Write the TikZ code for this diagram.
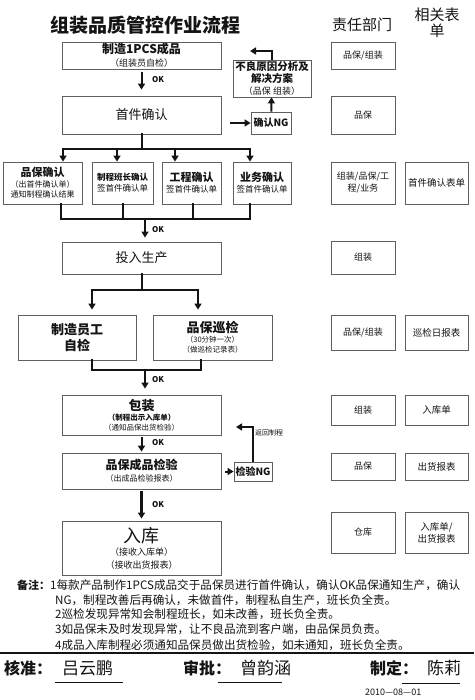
\documentclass[tikz,border=0pt]{standalone}
\usepackage{fontspec}
\setmainfont{Noto Sans CJK SC}
\usepackage{tikz}
\usetikzlibrary{arrows.meta,calc}
\definecolor{ink}{RGB}{20,20,20}
\definecolor{rim}{RGB}{95,95,95}
\newcommand{\fsz}[2]{\fontsize{#1}{#2}\selectfont}
\tikzset{
  box/.style={draw=rim,line width=0.8pt,inner sep=0pt,align=center,text=ink},
  sz/.style 2 args={minimum width=#1,minimum height=#2},
  flow/.style={-{Triangle[length=6pt,width=7pt]},line width=2pt,ink},
  link/.style={line width=2pt,ink,line cap=rect},
  oklab/.style={font=\bfseries\fsz{8}{9},inner sep=0pt,anchor=west,text=ink},
  txt/.style={inner sep=0pt,anchor=west,text=ink},
}

\begin{document}
\begin{tikzpicture}[x=1pt,y=-1pt]
\useasboundingbox[fill=white] (0,0) rectangle (474,700);
\node[txt,anchor=center,font=\bfseries\fsz{19}{21}] (title) at (145,25) {组装品质管控作业流程};
\node[txt,anchor=center,font=\fsz{15}{17}] (dhead) at (362,25) {责任部门};
\node[txt,anchor=center,align=center,font=\fsz{15}{16}] (fhead) at (437,23) {相关表\\单};

\node[box,sz={159pt}{27pt},font=\fsz{9}{13}] (make) at (141.5,55.5)
  {{\bfseries\fsz{12}{13}制造1PCS成品}\\（组装员自检）};
\node[box,sz={159pt}{38pt},font=\fsz{13}{15}] (first) at (141.5,115) {首件确认};
\node[box,sz={78pt}{37pt},font=\fsz{9}{12}] (cause) at (272,78.5)
  {{\bfseries\fsz{10.5}{12}不良原因分析及}\\{\bfseries\fsz{10.5}{12}解决方案}\\（品保 组装）};
\node[box,sz={40pt}{22pt},font=\bfseries\fsz{10}{12}] (ngA) at (271,123) {确认NG};

\node[box,sz={79pt}{42pt},font=\fsz{8}{10.5}] (qa) at (42.5,183)
  {{\bfseries\fsz{11}{12}品保确认}\\（出首件确认单）\\通知制程确认结果};
\node[box,sz={61pt}{42pt},font=\fsz{8.5}{11}] (lead) at (122.5,183)
  {{\bfseries 制程班长确认}\\签首件确认单};
\node[box,sz={59pt}{42pt},font=\fsz{8.5}{11}] (eng) at (191.5,183)
  {{\bfseries\fsz{11}{12}工程确认}\\签首件确认单};
\node[box,sz={58pt}{42pt},font=\fsz{8.5}{11}] (biz) at (262,183)
  {{\bfseries\fsz{11}{12}业务确认}\\签首件确认单};

\node[box,sz={159pt}{32pt},font=\fsz{13}{15}] (prod) at (141.5,258) {投入生产};
\node[box,sz={118pt}{45pt},font=\bfseries\fsz{13}{16}] (self) at (77,337.5) {制造员工\\自检};
\node[box,sz={119pt}{45pt},font=\fsz{7.5}{10}] (patrol) at (212.5,337.5)
  {{\bfseries\fsz{13}{14}品保巡检}\\（30分钟一次）\\（做巡检记录表）};
\node[box,sz={159pt}{40pt},font=\fsz{7.5}{10}] (pack) at (141.5,415)
  {{\bfseries\fsz{13}{14}包装}\\{\bfseries（制程出示入库单）}\\（通知品保出货检验）};
\node[box,sz={159pt}{36pt},font=\fsz{8}{12}] (check) at (141.5,471)
  {{\bfseries\fsz{12}{13}品保成品检验}\\（出成品检验报表）};
\node[box,sz={38pt}{19pt},font=\bfseries\fsz{10}{12}] (ngB) at (253,471.5) {检验NG};
\node[box,sz={159pt}{54pt},font=\fsz{9}{13}] (store) at (141.5,548)
  {{\fsz{18}{20}入库}\\（接收入库单）\\（接收出货报表）};

\foreach \nm/\y/\h/\lab in {d1/55.5/27/{品保/组装},d2/115/38/品保,d3/183/42/{组装/品保/工\\程/业务},
    d4/257.5/33/组装,d5/332.5/35/{品保/组装},d6/410/30/组装,d7/466.5/27/品保,d8/532.5/41/仓库}{
  \node[box,sz={64pt}{\h pt},font=\fsz{9}{12}] (\nm) at (363,\y) {\lab};}
\foreach \nm/\y/\h/\lab in {f3/183/42/首件确认表单,f5/332.5/35/巡检日报表,f6/410/30/入库单,
    f7/466.5/27/出货报表,f8/532.5/41/{入库单/\\出货报表}}{
  \node[box,sz={63pt}{\h pt},font=\fsz{9.5}{12}] (\nm) at (436.5,\y) {\lab};}

\draw[flow,shorten <=3pt,shorten >=6pt] (make) -- (first);
\node[oklab] (ok1) at (152,80) {OK};
\draw[flow,shorten <=9pt] (first.east |- ngA.west) -- (ngA.west);
\draw[flow] (ngA) -- (cause);
\coordinate (back1) at (250,51);
\draw[flow] (cause.north) |- (back1);

\coordinate (fork1) at (141.5,149);
\draw[link] (first.south) -- (fork1);
\foreach \n/\dx in {qa/20.5,lead/-5.5,eng/-16.5,biz/-12}{
  \coordinate (\n-in) at ([xshift=\dx pt]\n.north);
  \draw[flow] (\n-in |- fork1) -- (\n-in);}
\draw[link] (qa-in |- fork1) -- (biz-in |- fork1);

\coordinate (join1) at (145,219);
\foreach \n/\dx in {qa/18.5,lead/0.5,eng/1.5,biz/-12}{
  \coordinate (\n-out) at ([xshift=\dx pt]\n.south);
  \draw[link] (\n-out) -- (\n-out |- join1);}
\draw[link] (qa-out |- join1) -- (biz-out |- join1);
\draw[flow,shorten >=4pt] (join1) -- (join1 |- prod.north);
\node[oklab] (ok2) at (152,230) {OK};

\coordinate (fork2) at (141.5,290);
\draw[link] (prod.south) -- (fork2);
\foreach \n/\dx in {self/15,patrol/-14.5}{
  \coordinate (\n-in) at ([xshift=\dx pt]\n.north);
  \draw[flow,shorten >=5pt] (\n-in |- fork2) -- (\n-in);}
\draw[link] (self-in |- fork2) -- (patrol-in |- fork2);

\coordinate (join2) at (145,370);
\foreach \n/\dx in {self/15,patrol/-11.5}{
  \coordinate (\n-out) at ([xshift=\dx pt]\n.south);
  \draw[link] (\n-out) -- (\n-out |- join2);}
\draw[link] (self-out |- join2) -- (patrol-out |- join2);
\draw[flow,shorten >=6pt] (join2) -- (join2 |- pack.north);
\node[oklab] (ok3) at (152,380) {OK};

\draw[flow,shorten <=2pt,shorten >=1pt] (pack) -- (check);
\node[oklab] (ok4) at (152,443) {OK};
\draw[flow,shorten <=4pt] (check.east |- ngB.west) -- (ngB.west);
\coordinate (back2) at (236,427);
\draw[flow] (ngB.north) |- (back2);
\node[txt,font=\fsz{7}{8}] (ret) at (255,433) {返回制程};
\draw[flow,line width=3pt,shorten <=2pt,shorten >=2pt] (check) -- (store);
\node[oklab] (ok5) at (152,505) {OK};

\node[txt,font=\bfseries\fsz{11}{13}] (note) at (17,585) {备注：};
\foreach \i/\x/\y/\lab in {1/50/585/{1每款产品制作1PCS成品交于品保员进行首件确认，确认OK品保通知生产，确认},
    2/55/600/{NG，制程改善后再确认，未做首件，制程私自生产，班长负全责。},
    3/55/614/{2巡检发现异常知会制程班长，如未改善，班长负全责。},
    4/55/629/{3如品保未及时发现异常，让不良品流到客户端，由品保员负责。},
    5/55/645/{4成品入库制程必须通知品保员做出货检验，如未通知，班长负全责。}}{
  \node[txt,font=\fsz{11.6}{13}] (note\i) at (\x,\y) {\lab};}

\draw[line width=1.8pt,ink] (0,653) -- (474,653);
\node[txt,font=\bfseries\fsz{16}{18}] (sig1) at (4,668) {核准：};
\node[txt,font=\fsz{17}{18}] (name1) at (62,668) {吕云鹏};
\draw[line width=0.8pt,ink] (55,682) -- (123,682);
\node[txt,font=\bfseries\fsz{16}{18}] (sig2) at (183,668) {审批：};
\node[txt,font=\fsz{17}{18}] (name2) at (240,668) {曾韵涵};
\draw[line width=0.8pt,ink] (218,682) -- (282,682);
\node[txt,font=\bfseries\fsz{16}{18}] (sig3) at (370,668) {制定：};
\node[txt,font=\fsz{17}{18}] (name3) at (427,668) {陈莉};
\draw[line width=0.8pt,ink] (402,683) -- (460,683);
\node[txt,font=\fsz{9}{10}] (date) at (365,692) {2010—08—01};
\end{tikzpicture}
\end{document}
